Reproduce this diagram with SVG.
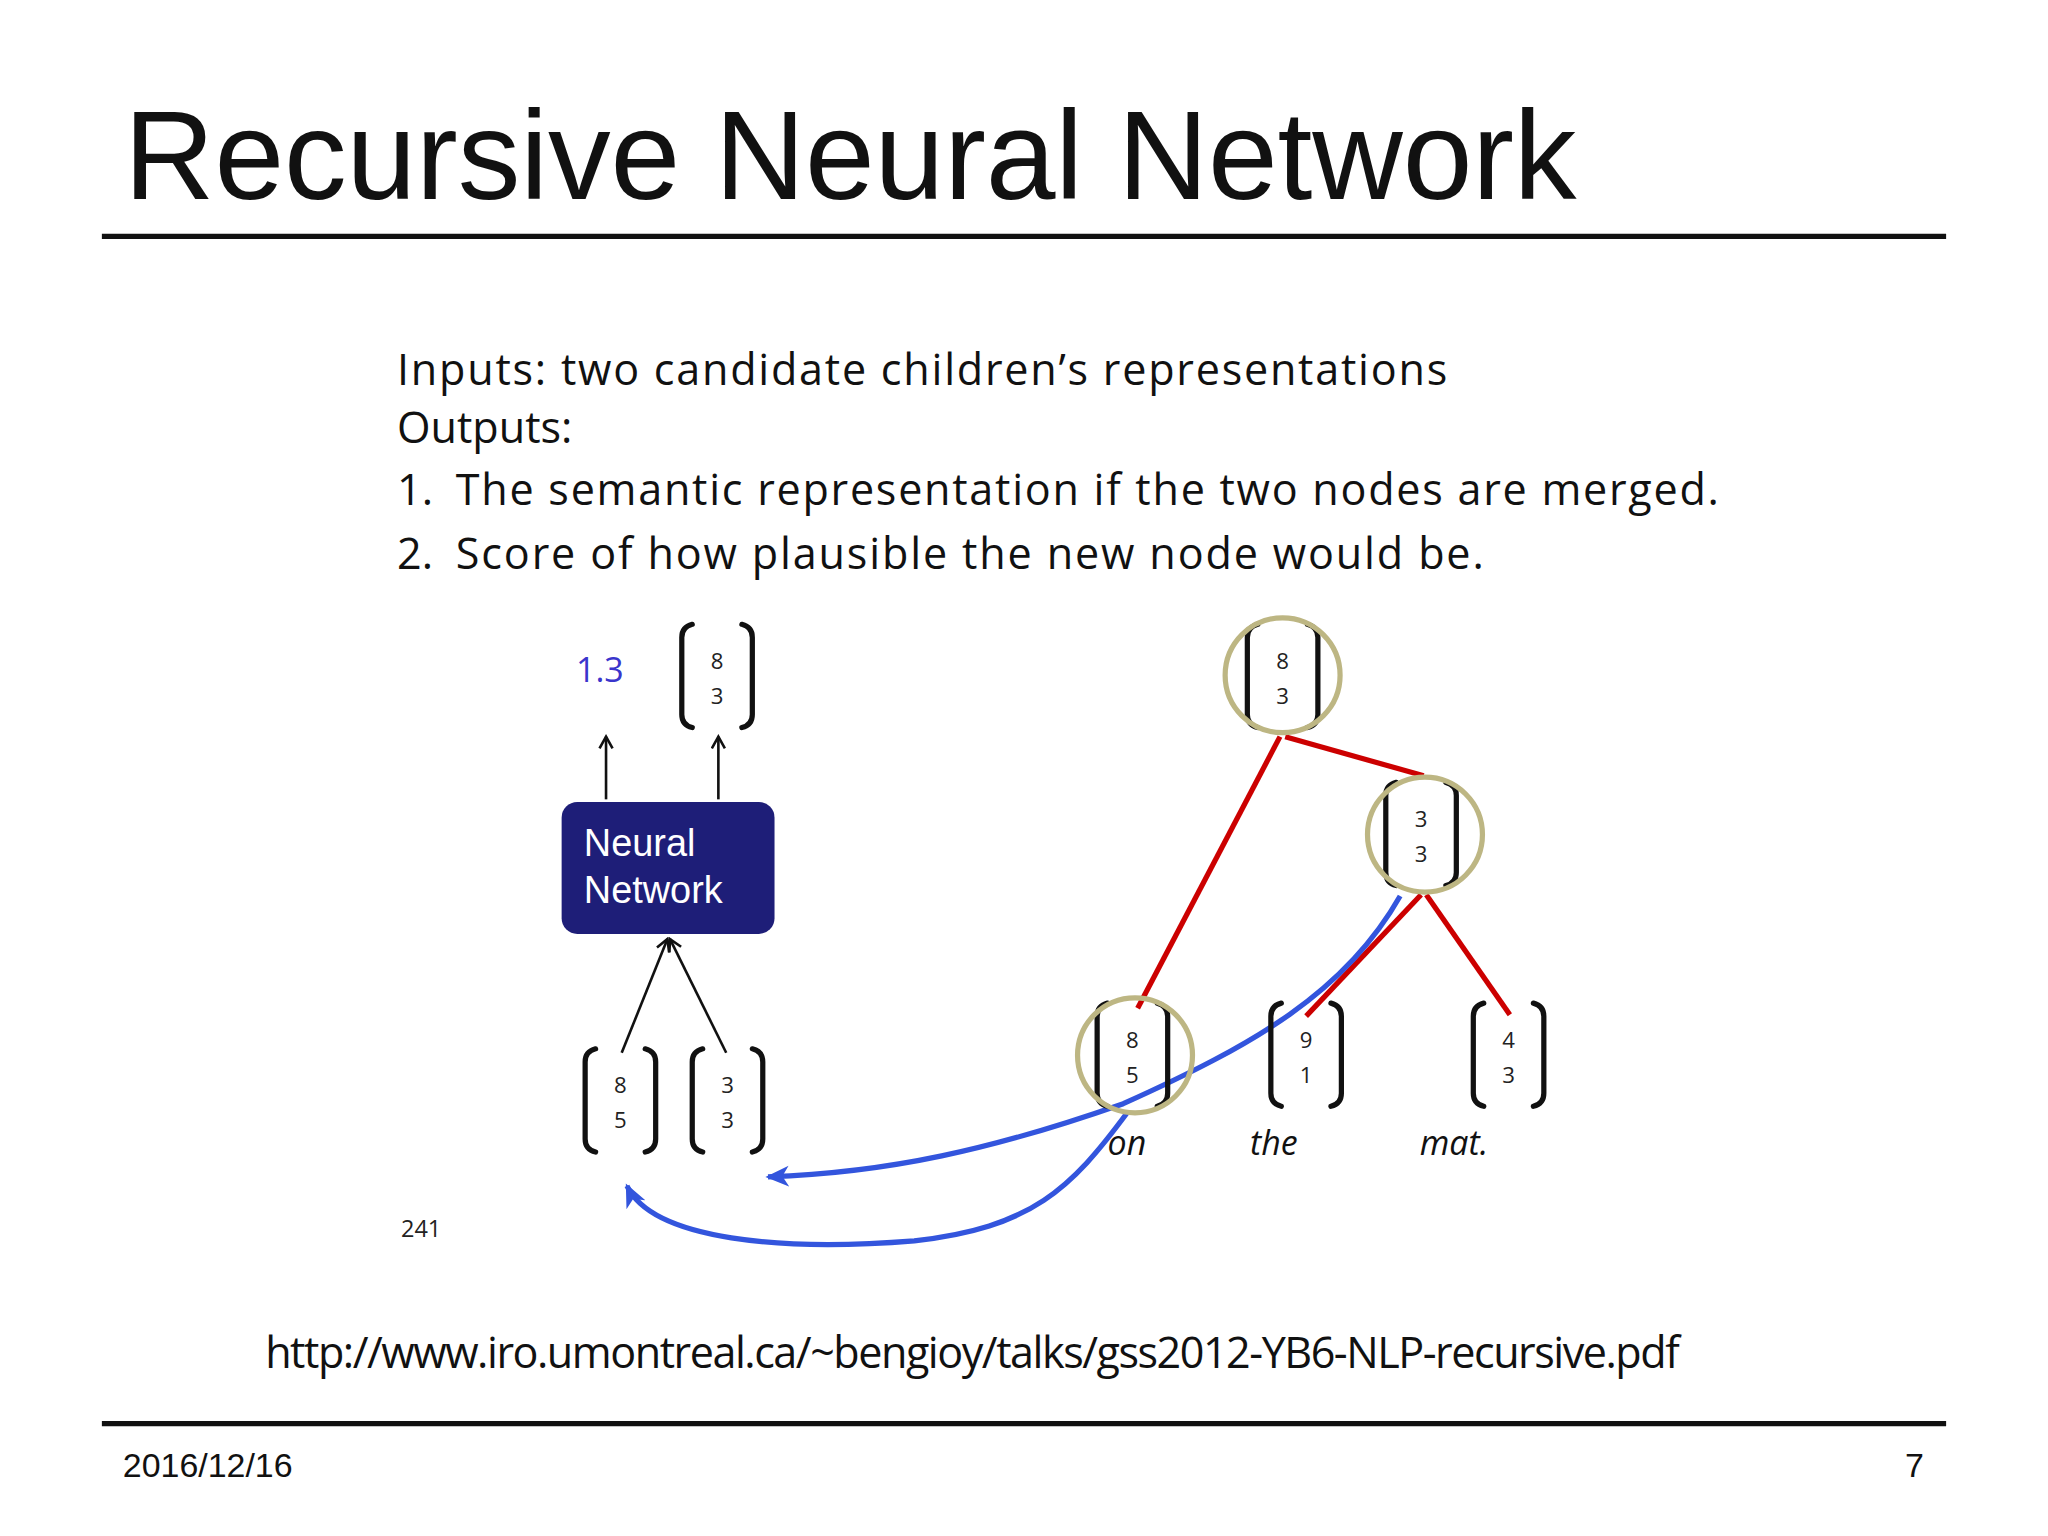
<svg xmlns="http://www.w3.org/2000/svg" width="2048" height="1536" viewBox="0 0 2048 1536">
<defs>
<style>
.br{fill:none;stroke:#111;stroke-width:4;stroke-linecap:round}
.num{font-family:"Open Sans",sans-serif;font-size:17px;fill:#222;text-anchor:middle}
.body{font-family:"Open Sans","Liberation Sans",sans-serif;font-size:33px;fill:#111}
.word{font-family:"Open Sans",sans-serif;font-size:26px;font-style:italic;fill:#111}
.ell{fill:none;stroke:#bdb683;stroke-width:4}
.red{stroke:#cc0000;stroke-width:4;fill:none}
.blue{stroke:#3355dd;stroke-width:4;fill:none}
.blk{stroke:#111;stroke-width:2;fill:none}
</style>
<marker id="ah" markerWidth="12" markerHeight="12" refX="10" refY="6" orient="auto" markerUnits="userSpaceOnUse"><path d="M1,1 L10,6 L1,11" fill="none" stroke="#111" stroke-width="2"/></marker>
<marker id="bh" markerWidth="20" markerHeight="20" refX="16" refY="10" orient="auto" markerUnits="userSpaceOnUse"><path d="M0,2 L18,10 L0,18 L5,10 Z" fill="#3355dd"/></marker>
<symbol id="vec" overflow="visible"><path class="br" d="M8,0 Q0,2 0,10 V69 Q0,77 8,79"/><path class="br" d="M46,0 Q54,2 54,10 V69 Q54,77 46,79"/></symbol>
</defs>
<rect width="2048" height="1536" fill="#fff"/>
<g transform="scale(1.30612)">
<g id="title"><text x="95" y="152" font-family="Liberation Sans,Arial,sans-serif" font-size="96" fill="#111" textLength="1112">Recursive Neural Network</text></g>
<line x1="78" y1="181" x2="1490" y2="181" stroke="#111" stroke-width="4"/>
<line x1="78" y1="1090" x2="1490" y2="1090" stroke="#111" stroke-width="4"/>
<text x="94" y="1131" font-family="Liberation Sans,Arial,sans-serif" font-size="26" fill="#111">2016/12/16</text>
<text x="1473" y="1131" font-family="Liberation Sans,Arial,sans-serif" font-size="26" fill="#111" text-anchor="end">7</text>
<g id="body">
<text class="body" x="304" y="295" textLength="804">Inputs: two candidate children’s representations</text>
<text class="body" x="304" y="339">Outputs:</text>
<text class="body" x="304" y="387">1.</text>
<text class="body" x="349" y="387" textLength="967">The semantic representation if the two nodes are merged.</text>
<text class="body" x="304" y="436">2.</text>
<text class="body" x="349" y="436" textLength="787">Score of how plausible the new node would be.</text>
</g>
<text x="307" y="947" font-family="Open Sans,sans-serif" font-size="18" fill="#222">241</text>
<text x="203" y="1047" class="body" font-size="31" textLength="1083">http://www.iro.umontreal.ca/~bengioy/talks/gss2012-YB6-NLP-recursive.pdf</text>

<g id="connectors">
<line class="blk" x1="464" y1="612" x2="464" y2="564" marker-end="url(#ah)"/>
<line class="blk" x1="550" y1="612" x2="550" y2="564" marker-end="url(#ah)"/>
<line class="blk" x1="476" y1="806" x2="511" y2="719" marker-end="url(#ah)"/>
<line class="blk" x1="556" y1="806" x2="513" y2="719" marker-end="url(#ah)"/>
<line class="red" x1="980" y1="564" x2="871" y2="772"/>
<line class="red" x1="984" y1="564" x2="1090" y2="594"/>
<line class="red" x1="1088" y1="685" x2="1000" y2="778"/>
<line class="red" x1="1092" y1="685" x2="1156" y2="777"/>
<path class="blue" d="M1072,686 C1030,760 960,800 860,845 C760,880 680,898 588,901" marker-end="url(#bh)"/>
<path class="blue" d="M863,852 C820,910 790,940 700,950 C600,958 500,950 480,908" marker-end="url(#bh)"/>
</g>

<g id="score"><text x="441" y="522" font-family="Open Sans,sans-serif" font-size="26" fill="#3a35cc">1.3</text></g>
<g id="out-vec"><use href="#vec" x="522" y="478"/><text class="num" x="549" y="512">8</text><text class="num" x="549" y="539">3</text></g>
<g id="nn"><rect x="430" y="614" width="163" height="101" rx="12" fill="#1e1e78"/>
<text x="447" y="655" font-family="Liberation Sans,Arial,sans-serif" font-size="29" fill="#fff">Neural</text>
<text x="447" y="691" font-family="Liberation Sans,Arial,sans-serif" font-size="29" fill="#fff">Network</text></g>
<g id="in1"><use href="#vec" x="448" y="803"/><text class="num" x="475" y="837">8</text><text class="num" x="475" y="864">5</text></g>
<g id="in2"><use href="#vec" x="530" y="803"/><text class="num" x="557" y="837">3</text><text class="num" x="557" y="864">3</text></g>

<g id="root"><use href="#vec" x="955" y="478"/><text class="num" x="982" y="512">8</text><text class="num" x="982" y="539">3</text><ellipse class="ell" cx="982" cy="517" rx="44" ry="44"/></g>
<g id="mid"><use href="#vec" x="1061" y="599"/><text class="num" x="1088" y="633">3</text><text class="num" x="1088" y="660">3</text><ellipse class="ell" cx="1091" cy="639" rx="44" ry="44"/></g>
<g id="on"><use href="#vec" x="840" y="768"/><text class="num" x="867" y="802">8</text><text class="num" x="867" y="829">5</text><ellipse class="ell" cx="869" cy="808" rx="44" ry="44"/><text class="word" x="848" y="884">on</text></g>
<g id="the"><use href="#vec" x="973" y="768"/><text class="num" x="1000" y="802">9</text><text class="num" x="1000" y="829">1</text><text class="word" x="957" y="884">the</text></g>
<g id="mat"><use href="#vec" x="1128" y="768"/><text class="num" x="1155" y="802">4</text><text class="num" x="1155" y="829">3</text><text class="word" x="1087" y="884">mat.</text></g>
</g>
</svg>
